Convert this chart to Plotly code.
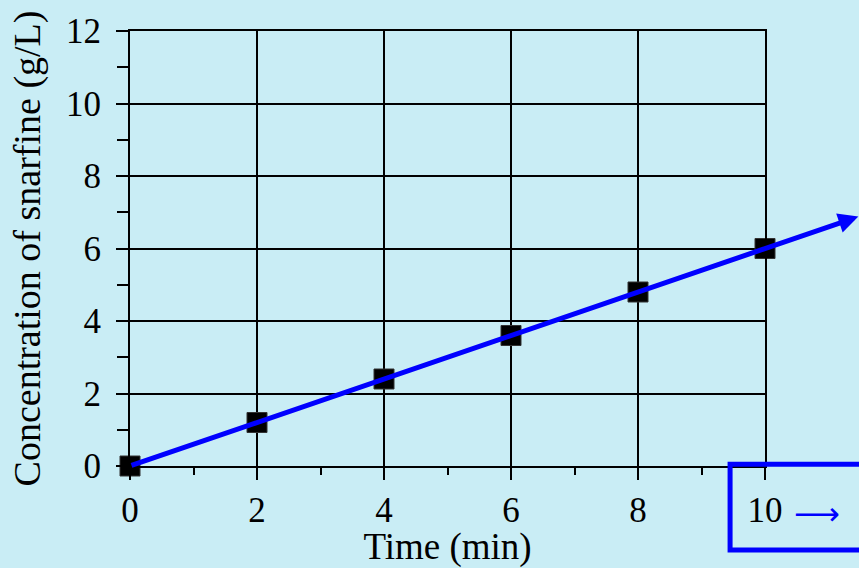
import plotly.graph_objects as go

time_min = [0, 2, 4, 6, 8, 10]
conc = [0, 1.2, 2.4, 3.6, 4.8, 6.0]
fit_start = [0, 0]
fit_end = [11.47, 6.88]
x_ticks = [0, 2, 4, 6, 8, 10]
y_ticks = [0, 2, 4, 6, 8, 10, 12]

BG = "#c9edf5"
FONT = "Liberation Serif, Times New Roman, serif"

fig = go.Figure()
fig.add_trace(go.Scatter(
    x=time_min, y=conc, mode="markers",
    marker=dict(symbol="square", size=20, color="black",
                line=dict(color="#333333", width=1)),
    cliponaxis=False, showlegend=False,
))

fig.add_annotation(
    x=fit_end[0], y=fit_end[1], ax=fit_start[0], ay=fit_start[1],
    xref="x", yref="y", axref="x", ayref="y",
    showarrow=True, arrowhead=2, arrowsize=0.8, arrowwidth=5,
    arrowcolor="#0000ff", text="", standoff=0, startstandoff=0,
)

fig.add_annotation(
    x=1.043, y=-0.111, xref="paper", yref="paper", text="⟶",
    showarrow=False, font=dict(family="DejaVu Sans", size=32, color="#0000ff"),
    xanchor="left", yanchor="middle",
)

fig.add_shape(type="rect", xref="paper", yref="paper",
              x0=0.945, x1=1.25, y0=-0.193, y1=0.004,
              line=dict(color="#0000ff", width=5), fillcolor="rgba(0,0,0,0)")

axis_common = dict(
    showgrid=True, gridcolor="black", gridwidth=2,
    showline=True, linecolor="black", linewidth=2, mirror=True,
    ticks="outside", tickcolor="black", tickwidth=2, ticklen=12,
    tickfont=dict(family=FONT, size=35, color="black"),
    zeroline=False,
)

fig.update_xaxes(
    range=[0, 10], tickvals=x_ticks,
    minor=dict(ticks="outside", dtick=1, ticklen=7, tickwidth=2,
               tickcolor="black", showgrid=False),
    title=dict(text="Time (min)", font=dict(family=FONT, size=37, color="black"),
               standoff=0),
    **axis_common,
)
fig.update_yaxes(
    range=[0, 12], tickvals=y_ticks,
    minor=dict(ticks="outside", dtick=1, ticklen=11, tickwidth=2,
               tickcolor="black", showgrid=False),
    ticklabelstandoff=8,
    title=dict(text="Concentration of snarfine (g/L)",
               font=dict(family=FONT, size=38, color="black"), standoff=14),
    **axis_common,
)

fig.update_layout(
    width=859, height=568,
    margin=dict(l=130, r=94, t=25, b=102),
    paper_bgcolor=BG, plot_bgcolor=BG,
    font=dict(family=FONT, color="black"),
    showlegend=False,
)

fig.write_html("out.html", config={"displayModeBar": False},
               post_script="document.body.style.margin='0';")
